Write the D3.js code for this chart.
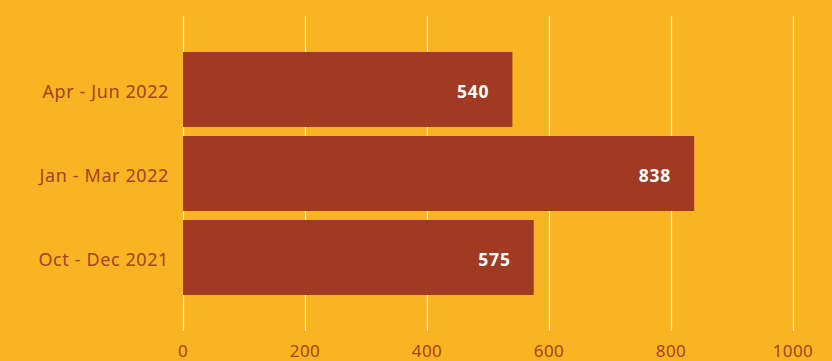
<!DOCTYPE html>
<html>
<head>
<meta charset="utf-8">
<script src="https://cdn.jsdelivr.net/npm/d3@7"></script>
<style>
  html, body { margin: 0; padding: 0; background: #F9B422; }
  svg { display: block; }
  text { font-family: "Noto Sans", "Open Sans", sans-serif; }
</style>
</head>
<body>
<svg id="chart" width="832" height="361"></svg>
<script>
const categories = ["Apr - Jun 2022", "Jan - Mar 2022", "Oct - Dec 2021"];
const values = [540, 838, 575];
const tickValues = [0, 200, 400, 600, 800, 1000];

const svg = d3.select("#chart");

const x = d3.scaleLinear().domain([0, 1000]).range([183, 793]);
const y = d3.scaleBand().domain(categories).range([47.5, 299.5])
  .paddingInner(0.107).paddingOuter(0.0535);

const textColor = "#A5431C";
const barColor = "#A03A22";

// vertical grid lines
svg.append("g").selectAll("line").data(tickValues).join("line")
  .attr("x1", d => x(d) + 0.5).attr("x2", d => x(d) + 0.5)
  .attr("y1", 16).attr("y2", 331)
  .attr("stroke", "#FFF3D6").attr("stroke-width", 1.2);

// bottom tick labels
svg.append("g").selectAll("text").data(tickValues).join("text")
  .attr("x", d => x(d)).attr("y", 357)
  .attr("text-anchor", "middle")
  .attr("fill", textColor).attr("font-size", 17)
  .attr("letter-spacing", 0.4)
  .text(d => d);

const rows = categories.map((c, i) => ({ c, v: values[i] }));

// bars
svg.append("g").selectAll("rect").data(rows).join("rect")
  .attr("x", x(0)).attr("y", d => y(d.c))
  .attr("width", d => x(d.v) - x(0)).attr("height", y.bandwidth())
  .attr("fill", barColor);

// category labels
svg.append("g").selectAll("text").data(rows).join("text")
  .attr("x", 169).attr("y", d => y(d.c) + y.bandwidth() / 2 + 2)
  .attr("dy", "0.35em").attr("text-anchor", "end")
  .attr("fill", textColor).attr("font-size", 18).attr("letter-spacing", 0.6)
  .text(d => d.c);

// value labels inside bars
svg.append("g").selectAll("text").data(rows).join("text")
  .attr("x", d => x(d.v) - 23).attr("y", d => y(d.c) + y.bandwidth() / 2 + 2.5)
  .attr("dy", "0.35em").attr("text-anchor", "end")
  .attr("fill", "#FFFFFF").attr("font-size", 17.5).attr("font-weight", "bold")
  .attr("letter-spacing", 0.8)
  .text(d => d.v);
</script>
</body>
</html>
